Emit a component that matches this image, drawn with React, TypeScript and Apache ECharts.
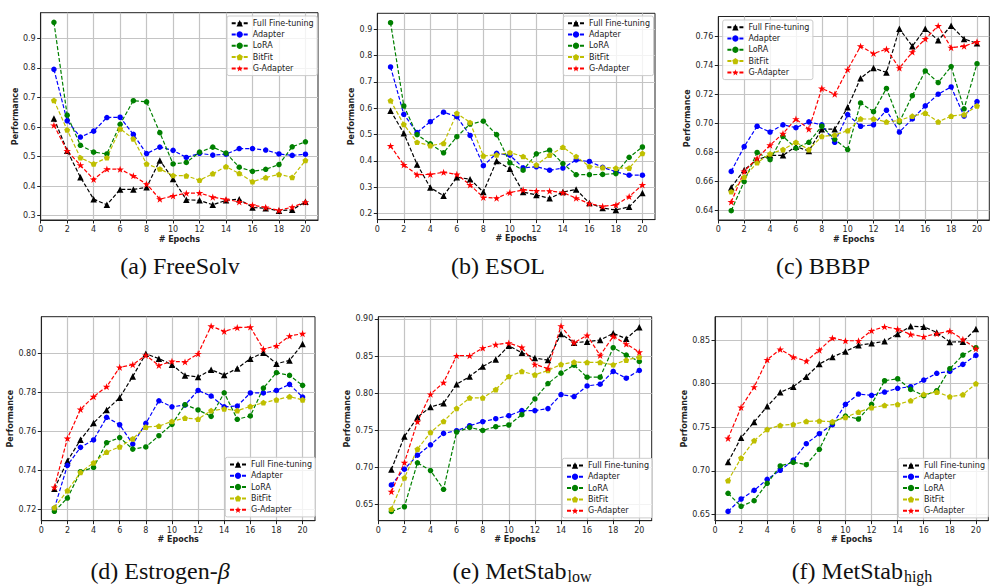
import React, { useEffect, useRef } from 'react';
import * as echarts from 'echarts';

const EPOCHS = [1, 2, 3, 4, 5, 6, 7, 8, 9, 10, 11, 12, 13, 14, 15, 16, 17, 18, 19, 20];
const METHODS = ['Full Fine-tuning', 'Adapter', 'LoRA', 'BitFit', 'G-Adapter'];
const X_TICKS = [0, 2, 4, 6, 8, 10, 12, 14, 16, 18, 20];

// (a) FreeSolv
const FREESOLV_FULL = [0.629, 0.52, 0.43, 0.356, 0.337, 0.389, 0.389, 0.396, 0.487, 0.424, 0.354, 0.352, 0.337, 0.352, 0.356, 0.328, 0.325, 0.317, 0.32, 0.347];
const FREESOLV_ADAPTER = [0.795, 0.621, 0.566, 0.586, 0.632, 0.633, 0.575, 0.51, 0.532, 0.521, 0.497, 0.511, 0.505, 0.508, 0.527, 0.527, 0.522, 0.509, 0.504, 0.508];
const FREESOLV_LORA = [0.954, 0.64, 0.538, 0.515, 0.509, 0.609, 0.689, 0.685, 0.581, 0.475, 0.48, 0.515, 0.532, 0.512, 0.464, 0.45, 0.457, 0.473, 0.533, 0.55];
const FREESOLV_BITFIT = [0.69, 0.59, 0.496, 0.475, 0.496, 0.594, 0.56, 0.475, 0.458, 0.436, 0.435, 0.42, 0.442, 0.466, 0.443, 0.415, 0.429, 0.44, 0.43, 0.487];
const FREESOLV_GADAPTER = [0.606, 0.519, 0.471, 0.423, 0.458, 0.457, 0.435, 0.407, 0.356, 0.367, 0.376, 0.377, 0.363, 0.355, 0.347, 0.336, 0.328, 0.318, 0.329, 0.346];
const FREESOLV_TICKS = [0.3, 0.4, 0.5, 0.6, 0.7, 0.8, 0.9];

// (b) ESOL
const ESOL_FULL = [0.591, 0.505, 0.387, 0.299, 0.268, 0.338, 0.331, 0.282, 0.4, 0.37, 0.282, 0.271, 0.258, 0.282, 0.292, 0.24, 0.221, 0.214, 0.226, 0.278];
const ESOL_ADAPTER = [0.757, 0.577, 0.508, 0.549, 0.585, 0.568, 0.497, 0.382, 0.429, 0.422, 0.374, 0.378, 0.365, 0.373, 0.404, 0.398, 0.376, 0.359, 0.346, 0.346];
const ESOL_LORA = [0.925, 0.609, 0.5, 0.465, 0.431, 0.492, 0.54, 0.551, 0.5, 0.393, 0.365, 0.427, 0.441, 0.39, 0.348, 0.348, 0.349, 0.352, 0.414, 0.453];
const ESOL_BITFIT = [0.629, 0.539, 0.471, 0.458, 0.467, 0.581, 0.546, 0.419, 0.423, 0.432, 0.417, 0.385, 0.422, 0.452, 0.417, 0.379, 0.375, 0.373, 0.373, 0.429];
const ESOL_GADAPTER = [0.457, 0.385, 0.348, 0.349, 0.357, 0.349, 0.309, 0.262, 0.259, 0.28, 0.29, 0.287, 0.286, 0.28, 0.259, 0.238, 0.228, 0.233, 0.265, 0.309];
const ESOL_TICKS = [0.2, 0.3, 0.4, 0.5, 0.6, 0.7, 0.8, 0.9];

// (c) BBBP
const BBBP_FULL = [0.656, 0.668, 0.675, 0.678, 0.678, 0.684, 0.681, 0.696, 0.696, 0.711, 0.731, 0.738, 0.735, 0.765, 0.753, 0.765, 0.757, 0.767, 0.758, 0.755];
const BBBP_ADAPTER = [0.667, 0.684, 0.698, 0.694, 0.699, 0.697, 0.701, 0.699, 0.687, 0.706, 0.698, 0.699, 0.709, 0.694, 0.703, 0.712, 0.72, 0.725, 0.705, 0.715];
const BBBP_LORA = [0.64, 0.66, 0.68, 0.675, 0.691, 0.683, 0.687, 0.698, 0.689, 0.682, 0.714, 0.708, 0.724, 0.701, 0.719, 0.736, 0.728, 0.739, 0.71, 0.741];
const BBBP_BITFIT = [0.653, 0.663, 0.673, 0.679, 0.682, 0.687, 0.682, 0.691, 0.692, 0.695, 0.703, 0.703, 0.701, 0.702, 0.705, 0.707, 0.701, 0.705, 0.706, 0.712];
const BBBP_GADAPTER = [0.646, 0.667, 0.676, 0.685, 0.693, 0.703, 0.696, 0.724, 0.72, 0.737, 0.753, 0.748, 0.751, 0.738, 0.749, 0.758, 0.767, 0.752, 0.753, 0.756];
const BBBP_TICKS = [0.64, 0.66, 0.68, 0.7, 0.72, 0.74, 0.76];

// (d) Estrogen-beta
const ESTROGEN_FULL = [0.7306, 0.7448, 0.7557, 0.7643, 0.771, 0.7773, 0.7882, 0.7998, 0.7973, 0.7942, 0.7887, 0.7879, 0.7916, 0.7889, 0.7923, 0.7973, 0.8003, 0.7947, 0.7964, 0.8048];
const ESTROGEN_ADAPTER = [0.7205, 0.7426, 0.7518, 0.7556, 0.7672, 0.7634, 0.7535, 0.7641, 0.7757, 0.7726, 0.7735, 0.781, 0.7781, 0.7726, 0.773, 0.7797, 0.7797, 0.781, 0.7841, 0.7776];
const ESTROGEN_LORA = [0.719, 0.7258, 0.7393, 0.7415, 0.7542, 0.7568, 0.7509, 0.752, 0.7578, 0.7636, 0.7737, 0.771, 0.7677, 0.7798, 0.7662, 0.7679, 0.7822, 0.7901, 0.7887, 0.7836];
const ESTROGEN_BITFIT = [0.7209, 0.7296, 0.739, 0.7439, 0.7494, 0.7521, 0.7562, 0.7622, 0.7627, 0.7651, 0.7668, 0.7663, 0.7706, 0.7715, 0.7706, 0.7728, 0.7747, 0.7762, 0.7778, 0.7762];
const ESTROGEN_GADAPTER = [0.7313, 0.7564, 0.7713, 0.7778, 0.7829, 0.7928, 0.7942, 0.799, 0.7938, 0.7959, 0.7956, 0.7998, 0.814, 0.8113, 0.8132, 0.8135, 0.8022, 0.8039, 0.8089, 0.8101];
const ESTROGEN_TICKS = [0.72, 0.74, 0.76, 0.78, 0.8];

// (e) MetStab low
const LOW_FULL = [0.6969, 0.7416, 0.7673, 0.7813, 0.7863, 0.812, 0.8224, 0.8359, 0.8454, 0.8639, 0.8544, 0.8472, 0.8445, 0.8797, 0.868, 0.8693, 0.8716, 0.8806, 0.8734, 0.8887];
const LOW_ADAPTER = [0.6762, 0.6974, 0.7163, 0.7303, 0.7457, 0.7493, 0.756, 0.7615, 0.7655, 0.7696, 0.7764, 0.7764, 0.7791, 0.798, 0.7953, 0.8097, 0.812, 0.8292, 0.8201, 0.8305];
const LOW_LORA = [0.6405, 0.6468, 0.706, 0.6956, 0.6703, 0.7475, 0.7538, 0.7497, 0.7547, 0.757, 0.7709, 0.7921, 0.8129, 0.8269, 0.8377, 0.8215, 0.8215, 0.8612, 0.8513, 0.8427];
const LOW_BITFIT = [0.6437, 0.6857, 0.7245, 0.747, 0.7619, 0.7795, 0.7935, 0.7935, 0.8048, 0.8224, 0.8292, 0.8247, 0.8305, 0.8386, 0.8418, 0.8413, 0.8413, 0.8382, 0.8445, 0.8486];
const LOW_GADAPTER = [0.6671, 0.7064, 0.7615, 0.7985, 0.8143, 0.8504, 0.8504, 0.8608, 0.8653, 0.8675, 0.8617, 0.8386, 0.8332, 0.8905, 0.868, 0.8779, 0.8508, 0.8765, 0.8662, 0.8553];
const LOW_TICKS = [0.65, 0.7, 0.75, 0.8, 0.85, 0.9];

// (f) MetStab high
const HIGH_FULL = [0.71, 0.738, 0.7559, 0.7739, 0.79, 0.7965, 0.8079, 0.8225, 0.8305, 0.837, 0.8439, 0.8462, 0.8485, 0.8569, 0.8657, 0.8653, 0.8588, 0.8477, 0.8481, 0.8626];
const HIGH_ADAPTER = [0.6534, 0.6676, 0.6775, 0.6902, 0.7005, 0.7123, 0.7311, 0.7425, 0.7529, 0.7762, 0.788, 0.7865, 0.7903, 0.7946, 0.7965, 0.8041, 0.8118, 0.8141, 0.8221, 0.8324];
const HIGH_LORA = [0.6741, 0.6592, 0.6657, 0.6856, 0.7055, 0.7097, 0.707, 0.7246, 0.7552, 0.7628, 0.7594, 0.7762, 0.8033, 0.8056, 0.7934, 0.7861, 0.7919, 0.8171, 0.8328, 0.8412];
const HIGH_BITFIT = [0.6886, 0.7146, 0.7345, 0.7475, 0.7521, 0.7533, 0.7567, 0.7571, 0.7563, 0.7613, 0.7674, 0.7724, 0.775, 0.7762, 0.7804, 0.7877, 0.7903, 0.785, 0.7873, 0.7999];
const HIGH_GADAPTER = [0.7372, 0.7727, 0.7961, 0.8274, 0.8393, 0.8305, 0.8259, 0.8385, 0.8523, 0.8492, 0.8492, 0.8607, 0.8653, 0.8626, 0.8565, 0.8538, 0.8573, 0.8603, 0.8508, 0.8401];
const HIGH_TICKS = [0.65, 0.7, 0.75, 0.8, 0.85];

const FONT = '"DejaVu Sans", sans-serif';
const SERIF = '"Liberation Serif", "Times New Roman", serif';
const FS = 8;

const STAR = 'path://M0,-1L0.2245,-0.309L0.951,-0.309L0.363,0.118L0.588,0.809L0,0.382L-0.588,0.809L-0.363,0.118L-0.951,-0.309L-0.2245,-0.309Z';
const PENTAGON = 'path://M0,-1L0.951,-0.309L0.588,0.809L-0.588,0.809L-0.951,-0.309Z';

const STYLES = [
  { color: '#000000', symbol: 'triangle', size: 6.5 },
  { color: '#0000ff', symbol: 'circle', size: 5.5 },
  { color: '#008000', symbol: 'circle', size: 5.5 },
  { color: '#bfbf00', symbol: PENTAGON, size: 6 },
  { color: '#ff0000', symbol: STAR, size: 7.5 },
];

const PANELS = [
  { series: [FREESOLV_FULL, FREESOLV_ADAPTER, FREESOLV_LORA, FREESOLV_BITFIT, FREESOLV_GADAPTER], ticks: FREESOLV_TICKS, dec: 1, yMin: 0.2855, yMax: 0.9866, grid: [40.7, 12.7, 277.3, 207.3], nameGap: 21, legend: [227, 16] },
  { series: [ESOL_FULL, ESOL_ADAPTER, ESOL_LORA, ESOL_BITFIT, ESOL_GADAPTER], ticks: ESOL_TICKS, dec: 1, yMin: 0.1774, yMax: 0.9606, grid: [377.3, 13.3, 277.7, 206.3], nameGap: 20.5, legend: [563.3, 16] },
  { series: [BBBP_FULL, BBBP_ADAPTER, BBBP_LORA, BBBP_BITFIT, BBBP_GADAPTER], ticks: BBBP_TICKS, dec: 2, yMin: 0.6336, yMax: 0.7734, grid: [718.3, 16.5, 271, 203.5], nameGap: 25, legend: [722.7, 20] },
  { series: [ESTROGEN_FULL, ESTROGEN_ADAPTER, ESTROGEN_LORA, ESTROGEN_BITFIT, ESTROGEN_GADAPTER], ticks: ESTROGEN_TICKS, dec: 2, yMin: 0.7142, yMax: 0.8188, grid: [41.3, 316.7, 273.7, 204], nameGap: 25, legend: [225.3, 457.3] },
  { series: [LOW_FULL, LOW_ADAPTER, LOW_LORA, LOW_BITFIT, LOW_GADAPTER], ticks: LOW_TICKS, dec: 2, yMin: 0.628, yMax: 0.903, grid: [378.3, 316.7, 273.4, 204], nameGap: 25, legend: [562.3, 458.3] },
  { series: [HIGH_FULL, HIGH_ADAPTER, HIGH_LORA, HIGH_BITFIT, HIGH_GADAPTER], ticks: HIGH_TICKS, dec: 2, yMin: 0.6427, yMax: 0.8768, grid: [715, 316.7, 273.3, 204], nameGap: 25, legend: [898.3, 458.3] },
];

const CAPTIONS = [
  { text: '{n|(a) FreeSolv}', x: 180, y: 266 },
  { text: '{n|(b) ESOL}', x: 498, y: 266 },
  { text: '{n|(c) BBBP}', x: 823, y: 266 },
  { text: '{n|(d) Estrogen-}{i|β}', x: 160, y: 571 },
  { text: '{n|(e) MetStab}{s|low}', x: 522, y: 571 },
  { text: '{n|(f) MetStab}{s|high}', x: 862, y: 571 },
];

function buildOption() {
  const grid = PANELS.map((p) => ({
    left: p.grid[0], top: p.grid[1], width: p.grid[2], height: p.grid[3],
    show: true, borderColor: '#222', borderWidth: 1, backgroundColor: 'transparent',
    containLabel: false, outerBoundsMode: 'none',
  }));
  const xAxis = PANELS.map((p, i) => ({
    type: 'value', gridIndex: i, min: 0, max: 20.95,
    name: '# Epochs', nameLocation: 'middle', nameGap: 15,
    nameTextStyle: { fontWeight: 'bold', fontSize: FS, color: '#222', fontFamily: FONT },
    axisLine: { show: true, onZero: false, lineStyle: { color: '#222', width: 1 } },
    axisTick: { show: true, length: 3.5, lineStyle: { color: '#222' }, customValues: X_TICKS },
    axisLabel: { customValues: X_TICKS, fontSize: FS, color: '#262626', margin: 5.5, fontFamily: FONT, formatter: (v: number) => String(v) },
    splitLine: { show: true, lineStyle: { color: '#c4c4c4', width: 1.2 } },
  }));
  const yAxis = PANELS.map((p, i) => ({
    type: 'value', gridIndex: i, min: p.yMin, max: p.yMax,
    name: 'Performance', nameLocation: 'middle', nameGap: p.nameGap,
    nameTextStyle: { fontWeight: 'bold', fontSize: FS, color: '#222', fontFamily: FONT },
    axisLine: { show: true, onZero: false, lineStyle: { color: '#222', width: 1 } },
    axisTick: { show: true, length: 3.5, lineStyle: { color: '#222' }, customValues: p.ticks },
    axisLabel: { customValues: p.ticks, fontSize: FS, color: '#262626', margin: 5, fontFamily: FONT, formatter: (v: number) => v.toFixed(p.dec) },
    splitLine: { show: true, lineStyle: { color: '#c4c4c4', width: 1.2 } },
  }));
  const series: any[] = [];
  PANELS.forEach((p, i) => {
    p.series.forEach((vals, k) => {
      const st = STYLES[k];
      series.push({
        type: 'line', name: METHODS[k], xAxisIndex: i, yAxisIndex: i,
        data: EPOCHS.map((e, j) => [e, vals[j]]),
        symbol: st.symbol, symbolSize: st.size, symbolKeepAspect: true, showSymbol: true,
        lineStyle: { color: st.color, width: 1.2, type: [4, 2] },
        itemStyle: { color: st.color },
        silent: true, animation: false,
        emphasis: { disabled: true },
      });
    });
  });
  const legend = PANELS.map((p) => ({
    orient: 'vertical', left: p.legend[0], top: p.legend[1],
    itemWidth: 16, itemHeight: 8, itemGap: 3.3,
    padding: [3.2, 3.5, 3.2, 3.7],
    backgroundColor: 'rgba(255,255,255,0.8)', borderColor: '#cccccc', borderWidth: 1, borderRadius: 2,
    textStyle: { fontSize: FS, color: '#222', fontFamily: FONT },
    data: METHODS, selectedMode: false,
  }));
  const graphic = CAPTIONS.map((c) => ({
    type: 'text', x: c.x, y: c.y,
    style: {
      text: c.text, align: 'center', verticalAlign: 'middle',
      fontFamily: SERIF, fontSize: 24, fill: '#111',
      rich: {
        n: { fontFamily: SERIF, fontSize: 24, lineHeight: 26, fill: '#111', color: '#111' },
        i: { fontFamily: SERIF, fontSize: 24, lineHeight: 26, fontStyle: 'italic', fill: '#111', color: '#111' },
        s: { fontFamily: SERIF, fontSize: 16, lineHeight: 16, verticalAlign: 'bottom', padding: [0, 0, 0, 1], fill: '#111', color: '#111' },
      },
    },
  }));
  return { animation: false, backgroundColor: '#ffffff', grid, xAxis, yAxis, series, legend, graphic };
}

export default function App() {
  const ref = useRef<HTMLDivElement>(null);
  useEffect(() => {
    const chart = echarts.init(ref.current!, null, { renderer: 'svg' });
    chart.setOption(buildOption() as any);
    return () => chart.dispose();
  }, []);
  return <div ref={ref} style={{ position: 'fixed', left: 0, top: 0, width: 990, height: 586, background: '#fff' }} />;
}
